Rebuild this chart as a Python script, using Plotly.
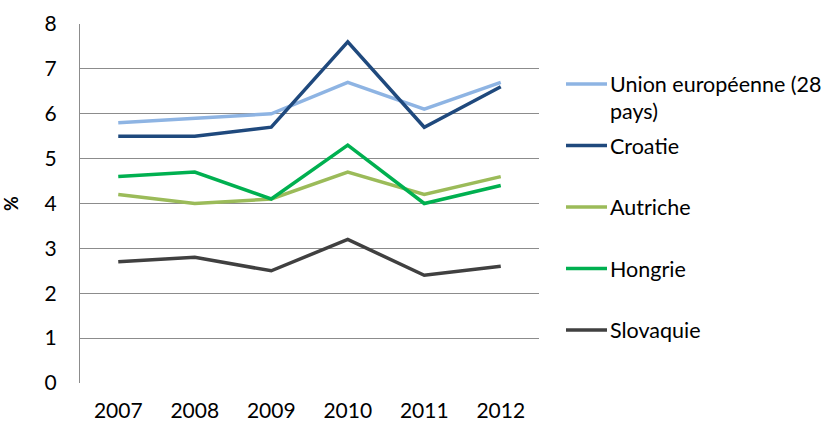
import plotly.graph_objects as go

years = ["2007", "2008", "2009", "2010", "2011", "2012"]

ue28 = [5.8, 5.9, 6.0, 6.7, 6.1, 6.7]
croatie = [5.5, 5.5, 5.7, 7.6, 5.7, 6.6]
autriche = [4.2, 4.0, 4.1, 4.7, 4.2, 4.6]
hongrie = [4.6, 4.7, 4.1, 5.3, 4.0, 4.4]
slovaquie = [2.7, 2.8, 2.5, 3.2, 2.4, 2.6]

series_names = ["Union européenne (28", "Croatie", "Autriche", "Hongrie", "Slovaquie"]
series_extra = ["pays)", "", "", "", ""]
series_values = [ue28, croatie, autriche, hongrie, slovaquie]
series_colors = ["#8EB4E3", "#1F497D", "#9BBB59", "#00B050", "#404040"]

FONT = "Lato"
W, H = 838, 424
ML, MR, MT, MB = 80, 299, 24, 41
PW, PH = W - ML - MR, H - MT - MB


def px_to_paper_x(px):
    return (px - ML) / PW


def px_to_paper_y(py):
    return (H - MB - py) / PH


fig = go.Figure()
for name, vals, col in zip(series_names, series_values, series_colors):
    fig.add_trace(go.Scatter(
        x=years, y=vals, name=name, mode="lines",
        line=dict(color=col, width=3.5),
        showlegend=False,
    ))

# Legend drawn at the right of the plot: a short line sample and the label
shapes, annotations = [], []
for i, (name, extra, col) in enumerate(zip(series_names, series_extra, series_colors)):
    ypx = 84 + 61.5 * i
    yp = px_to_paper_y(ypx)
    shapes.append(dict(
        type="line", xref="paper", yref="paper",
        x0=px_to_paper_x(566), x1=px_to_paper_x(607), y0=yp, y1=yp,
        line=dict(color=col, width=3.5),
    ))
    annotations.append(dict(
        xref="paper", yref="paper", x=px_to_paper_x(608), y=yp,
        xanchor="left", yanchor="middle", showarrow=False,
        text=name, font=dict(family=FONT, size=21.5, color="#000000"),
    ))
    if extra:
        annotations.append(dict(
            xref="paper", yref="paper", x=px_to_paper_x(608), y=px_to_paper_y(ypx + 27),
            xanchor="left", yanchor="middle", showarrow=False,
            text=extra, font=dict(family=FONT, size=21.5, color="#000000"),
        ))

fig.update_layout(
    width=W, height=H,
    margin=dict(l=ML, r=MR, t=MT, b=MB),
    paper_bgcolor="white", plot_bgcolor="white",
    font=dict(family=FONT, size=21, color="#000000"),
    showlegend=False,
    shapes=shapes,
    annotations=annotations,
    xaxis=dict(
        type="category", range=[-0.5, 5.5], automargin=False,
        showgrid=False, showline=False, zeroline=False,
        ticks="", ticklabelstandoff=13,
        tickfont=dict(family=FONT, size=21),
    ),
    yaxis=dict(
        range=[0, 8], dtick=1, tick0=0, automargin=False,
        showgrid=True, gridcolor="#8C8C8C", gridwidth=1,
        showline=True, linecolor="#8C8C8C", linewidth=1,
        zeroline=False, ticks="", ticklabelstandoff=18,
        tickfont=dict(family=FONT, size=21),
        title=dict(text="<b>%</b>", font=dict(family=FONT, size=18), standoff=22),
    ),
)

fig.write_html("out.html")
